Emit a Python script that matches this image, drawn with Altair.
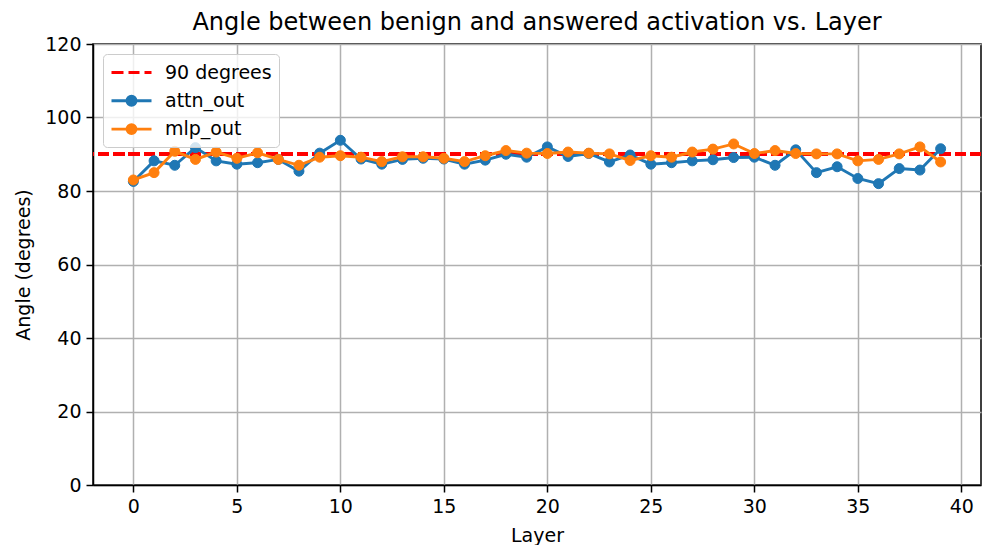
import altair as alt
import pandas as pd

layers = list(range(40))
attn_out = [82.6, 88.2, 87.0, 91.8, 88.2, 87.3, 87.7, 88.6, 85.4, 90.3,
            93.8, 88.7, 87.3, 88.6, 88.9, 88.7, 87.3, 88.4, 90.0, 89.2,
            92.0, 89.4, 90.2, 87.9, 89.8, 87.3, 87.7, 88.2, 88.5, 89.1,
            89.2, 87.0, 91.2, 85.0, 86.6, 83.4, 82.0, 86.1, 85.7, 91.5]
mlp_out = [83.0, 85.0, 90.8, 88.6, 90.6, 88.9, 90.4, 88.6, 87.0, 89.2,
           89.6, 89.2, 88.0, 89.3, 89.3, 88.9, 88.0, 89.6, 91.0, 90.3,
           90.2, 90.6, 90.3, 90.1, 88.3, 89.6, 89.2, 90.6, 91.4, 92.8,
           90.2, 91.0, 90.2, 90.1, 90.1, 88.2, 88.6, 90.1, 92.0, 87.9]
series_names = ["90 degrees", "attn_out", "mlp_out"]
series_colors = ["#ff0000", "#1f77b4", "#ff7f0e"]
ref_angle = 90
title_text = "Angle between benign and answered activation vs. Layer"

df = pd.DataFrame({
    "Layer": layers * 2,
    "Angle": attn_out + mlp_out,
    "series": ["attn_out"] * len(layers) + ["mlp_out"] * len(layers),
})

dash_path = "M-1,0H0.2M0.7,0H1.8M2.3,0H3"
dot_path = "M-1,0H3M1.45,0A0.45,0.45,0,1,1,0.55,0A0.45,0.45,0,1,1,1.45,0Z"

leg = alt.Legend(
    title=None, orient="none", legendX=10, legendY=10,
    fillColor="rgba(255,255,255,0.8)", strokeColor="#cccccc", cornerRadius=4,
    padding=7, rowPadding=6.3, symbolSize=400, symbolStrokeWidth=2.9,
    labelFontSize=19, labelFont="DejaVu Sans", labelColor="black", labelOffset=32,
    symbolOpacity=1,
)
color_scale = alt.Scale(domain=series_names, range=series_colors)
shape_scale = alt.Scale(domain=series_names, range=[dash_path, dot_path, dot_path])

xenc = alt.X("Layer:Q", title="Layer",
             scale=alt.Scale(domain=[-1.95, 40.95], nice=False, zero=False),
             axis=alt.Axis(values=[0, 5, 10, 15, 20, 25, 30, 35, 40], format="d", grid=True))
yenc = alt.Y("Angle:Q", title="Angle (degrees)",
             scale=alt.Scale(domain=[0, 120], nice=False),
             axis=alt.Axis(values=[0, 20, 40, 60, 80, 100, 120], grid=True))

base = alt.Chart(df)

rule = base.mark_rule(color="#ff0000", strokeWidth=2.9, strokeDash=[10.7, 4.6]).encode(
    y=alt.datum(ref_angle)
)

# invisible layer that only carries the legend
legend_layer = base.transform_filter("false").mark_point(filled=True, opacity=1).encode(
    x=xenc, y=yenc,
    stroke=alt.Stroke("series:N", scale=color_scale, legend=leg),
    fill=alt.Fill("series:N", scale=color_scale, legend=leg),
    shape=alt.Shape("series:N", scale=shape_scale, legend=leg),
)


def series_layers(name):
    src = base.transform_filter(alt.datum.series == name)
    line = src.mark_line(strokeWidth=2.9, opacity=1).encode(
        x=xenc, y=yenc,
        stroke=alt.Stroke("series:N", scale=color_scale, legend=None),
    )
    pts = src.mark_circle(size=100, strokeWidth=1, opacity=1).encode(
        x=xenc, y=yenc,
        stroke=alt.Stroke("series:N", scale=color_scale, legend=None),
        fill=alt.Fill("series:N", scale=color_scale, legend=None),
    )
    return [line, pts]


chart = alt.layer(rule, legend_layer, *series_layers("attn_out"), *series_layers("mlp_out")).properties(
    width=888, height=441,
    title=alt.TitleParams(title_text, fontSize=24, font="DejaVu Sans", fontWeight="normal",
                          anchor="middle", frame="group", baseline="bottom", offset=6,
                          dy=30, color="black"),
    autosize=alt.AutoSizeParams(type="none"),
    padding={"left": 85, "top": 36, "right": 7, "bottom": 60},
).configure_view(
    stroke="black", strokeWidth=1.5
).configure_axis(
    labelFont="DejaVu Sans", titleFont="DejaVu Sans", labelFontSize=19, titleFontSize=19,
    titleFontWeight="normal", labelColor="black", titleColor="black",
    tickSize=7, tickWidth=1.5, tickColor="black", domainColor="black", domainWidth=1.5,
    gridColor="#b0b0b0", gridWidth=1.5, labelPadding=5, grid=True,
).configure_axisX(titlePadding=10).configure_axisY(titlePadding=11)

chart.save("out.html", embed_options={"renderer": "svg", "actions": False})
